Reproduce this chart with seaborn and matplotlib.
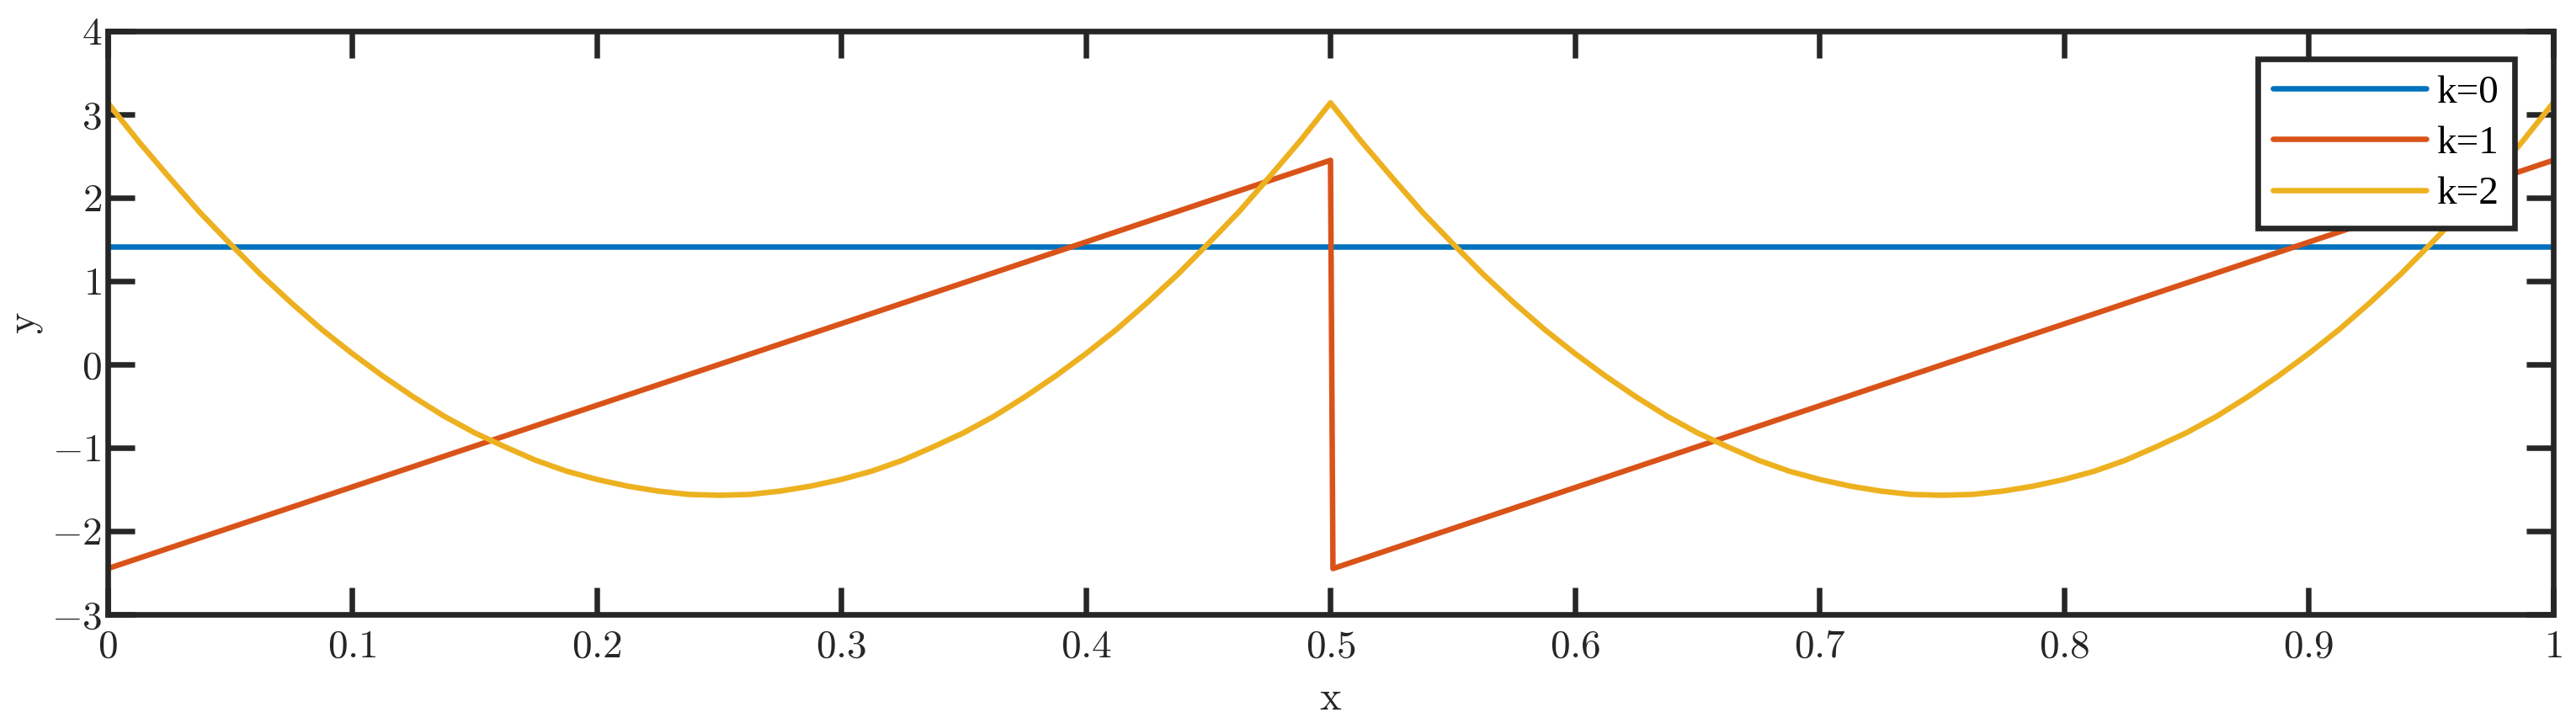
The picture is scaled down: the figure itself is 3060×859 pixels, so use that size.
import numpy as np
import pandas as pd
import matplotlib
matplotlib.use("Agg")
import matplotlib.pyplot as plt
import seaborn as sns

# ---- data ----
k0_x = [0.0, 1.0]
k0_y = [1.414, 1.414]

k1_x = [0.0, 0.5, 0.501, 1.0]
k1_y = [-2.45, 2.45, -2.45, 2.45]

k2_x = [0.0, 0.0125, 0.025, 0.0375, 0.05, 0.0625, 0.075, 0.0875, 0.1, 0.1125,
        0.125, 0.1375, 0.15, 0.1625, 0.175, 0.1875, 0.2, 0.2125, 0.225, 0.2375,
        0.25, 0.2625, 0.275, 0.2875, 0.3, 0.3125, 0.325, 0.3375, 0.35, 0.3625,
        0.375, 0.3875, 0.4, 0.4125, 0.425, 0.4375, 0.45, 0.4625, 0.475, 0.4875,
        0.5, 0.5125, 0.525, 0.5375, 0.55, 0.5625, 0.575, 0.5875, 0.6, 0.6125,
        0.625, 0.6375, 0.65, 0.6625, 0.675, 0.6875, 0.7, 0.7125, 0.725, 0.7375,
        0.75, 0.7625, 0.775, 0.7875, 0.8, 0.8125, 0.825, 0.8375, 0.85, 0.8625,
        0.875, 0.8875, 0.9, 0.9125, 0.925, 0.9375, 0.95, 0.9625, 0.975, 0.9875,
        1.0]
k2_y = [3.14, 2.68, 2.25, 1.83, 1.45, 1.08, 0.74, 0.42, 0.13, -0.14,
        -0.39, -0.62, -0.82, -0.99, -1.15, -1.28, -1.38, -1.46, -1.52, -1.56,
        -1.57, -1.56, -1.52, -1.46, -1.38, -1.28, -1.15, -0.99, -0.82, -0.62,
        -0.39, -0.14, 0.13, 0.42, 0.74, 1.08, 1.45, 1.83, 2.25, 2.68,
        3.14, 2.68, 2.25, 1.83, 1.45, 1.08, 0.74, 0.42, 0.13, -0.14,
        -0.39, -0.62, -0.82, -0.99, -1.15, -1.28, -1.38, -1.46, -1.52, -1.56,
        -1.57, -1.56, -1.52, -1.46, -1.38, -1.28, -1.15, -0.99, -0.82, -0.62,
        -0.39, -0.14, 0.13, 0.42, 0.74, 1.08, 1.45, 1.83, 2.25, 2.68,
        3.14]

series_names = ["k=0", "k=1", "k=2"]
series_colors = ["#0072BD", "#D95319", "#EDB120"]

x_ticks = [0, 0.1, 0.2, 0.3, 0.4, 0.5, 0.6, 0.7, 0.8, 0.9, 1.0]
x_tick_labels = ["0", "0.1", "0.2", "0.3", "0.4", "0.5", "0.6", "0.7", "0.8", "0.9", "1"]
y_ticks = [-3, -2, -1, 0, 1, 2, 3, 4]
y_tick_labels = ["-3", "-2", "-1", "0", "1", "2", "3", "4"]

# ---- build long table ----
frames = []
for name, xs, ys in zip(series_names, [k0_x, k1_x, k2_x], [k0_y, k1_y, k2_y]):
    frames.append(pd.DataFrame({"x": xs, "y": ys, "k": name}))
df = pd.concat(frames, ignore_index=True)

sns.set_theme(style="white")
plt.rcParams["font.family"] = ["serif"]
plt.rcParams["font.serif"] = ["cmr10", "DejaVu Serif"]
plt.rcParams["mathtext.fontset"] = "cm"
plt.rcParams["axes.formatter.use_mathtext"] = True

DPI = 100
fig = plt.figure(figsize=(30.6, 8.59), dpi=DPI)
W, H = 3060, 859
ax = fig.add_axes([128 / W, 1 - 730 / H, 2905 / W, 693 / H])

sns.lineplot(data=df, x="x", y="y", hue="k", palette=series_colors,
             hue_order=series_names, estimator=None, sort=False,
             linewidth=4.7, ax=ax, legend=True)

ax.set_xlim(0, 1)
ax.set_ylim(-3, 4)
dark = "#262626"
ax.set_xticks(x_ticks)
ax.set_xticklabels([f"${t}$" for t in x_tick_labels])
ax.set_yticks(y_ticks)
ax.set_yticklabels([f"${t}$" for t in y_tick_labels])
ax.tick_params(axis="both", which="both", direction="in", length=23, width=4.7,
               color=dark, labelcolor=dark, labelsize=34,
               top=True, right=True, bottom=True, left=True,
               labeltop=False, labelright=False)
ax.tick_params(axis="x", pad=13)
ax.tick_params(axis="y", pad=5)
for sp in ax.spines.values():
    sp.set_visible(True)
    sp.set_linewidth(4.8)
    sp.set_color(dark)

ax.set_xlabel("x", fontsize=35, color=dark, fontfamily="cmr10", labelpad=14)
ax.set_ylabel("y", fontsize=35, color=dark, fontfamily="cmr10", labelpad=8)

handles, labels = ax.get_legend_handles_labels()
leg = ax.legend(handles, labels, loc="upper right",
                bbox_to_anchor=((2987 - 128) / 2905, (730 - 70) / 693),
                borderaxespad=0, frameon=True, fancybox=False, framealpha=1,
                prop={"family": "Liberation Serif", "size": 34},
                handlelength=3.85, handletextpad=0.25, borderpad=0.4,
                labelspacing=0.36)
leg.get_frame().set_edgecolor(dark)
leg.get_frame().set_linewidth(4.8)
for line in leg.get_lines():
    line.set_linewidth(4.7)
for t in leg.get_texts():
    t.set_color("black")

fig.savefig("out.png", dpi=DPI, facecolor="white")
